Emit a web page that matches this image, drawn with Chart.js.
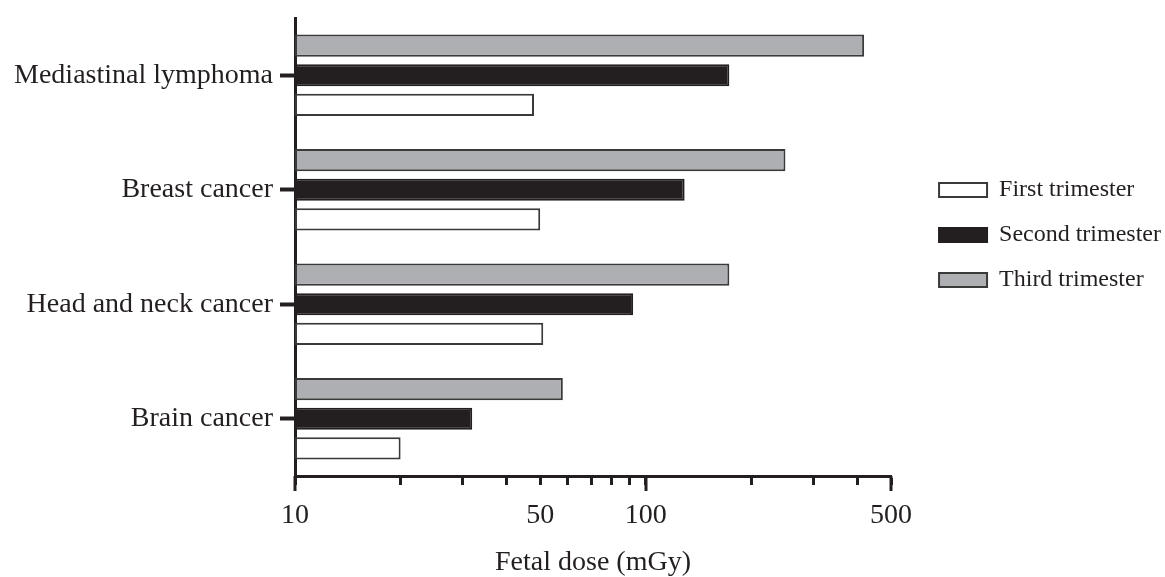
<!DOCTYPE html>
<html>
<head>
<meta charset="utf-8">
<script src="https://cdn.jsdelivr.net/npm/chart.js@4/dist/chart.umd.min.js"></script>
<style>
   html, body { margin: 0; padding: 0; background: #ffffff; }
   #wrap { width: 1165px; height: 577px; }
</style>
</head>
<body>
<div id="wrap"><canvas id="canvasDose"></canvas></div>
<script>

/* data (fetal dose, mGy) */
const categories = ["Mediastinal lymphoma", "Breast cancer", "Head and neck cancer", "Brain cancer"];
const firstTrimester = [48, 50, 51, 20];
const secondTrimester = [173, 129, 92, 32];
const thirdTrimester = [419, 250, 173, 58];

const xTickValues = [10, 20, 30, 40, 50, 60, 70, 80, 90, 100, 200, 300, 400, 500];
const xTickLabels = [10, 50, 100, 500];
const xMajorTicks = [10, 100, 500];

const INK = "#231f20";
const EDGE = "#3a3a3a";
const SERIF = "'Liberation Serif', 'Times New Roman', serif";

/* longer ticks at the decades, drawn through the x scale */
const majorTicks = {
   id: "majorTicks",
   afterDraw(chart) {
      let sx = chart.scales.x, ctx = chart.ctx, y0 = chart.chartArea.bottom;
      ctx.save();
      ctx.strokeStyle = INK;
      ctx.lineWidth = 3;
      for (let v of xMajorTicks) {
         let px = Math.round(sx.getPixelForValue(v));
         ctx.beginPath();
         ctx.moveTo(px, y0);
         ctx.lineTo(px, y0 + 15);
         ctx.stroke();
      }
      ctx.restore();
   }
};

let datasets = [
   {
      label: "Third trimester",
      data: thirdTrimester,
      backgroundColor: "#aeafb2",
      borderColor: EDGE,
      borderWidth: 2,
      borderSkipped: false
   },
   {
      label: "Second trimester",
      data: secondTrimester,
      backgroundColor: INK,
      borderColor: INK,
      borderWidth: 2,
      borderSkipped: false
   },
   {
      label: "First trimester",
      data: firstTrimester,
      backgroundColor: "#ffffff",
      borderColor: EDGE,
      borderWidth: 2,
      borderSkipped: false
   }
];

let conf = {
   type: "bar",
   data: {
      labels: categories,
      datasets: datasets
   },
   options: {
      indexAxis: "y",
      responsive: true,
      maintainAspectRatio: false,
      animation: false,
      categoryPercentage: 0.775,
      barPercentage: 0.75,
      layout: {
         padding: {top: 18, left: 0, right: -6, bottom: 0}
      },
      scales: {
         x: {
            type: "logarithmic",
            min: 10,
            max: 500,
            afterBuildTicks: (scale) => {
               scale.ticks = xTickValues.map(v => ({value: v}));
            },
            afterFit: (scale) => {
               scale.height = 101;
            },
            border: {display: true, color: INK, width: 3},
            grid: {
               display: true,
               drawOnChartArea: false,
               drawTicks: true,
               tickLength: 9,
               tickWidth: 3,
               tickColor: INK
            },
            ticks: {
               autoSkip: false,
               maxRotation: 0,
               color: INK,
               padding: 14,
               font: {family: SERIF, size: 28}
               , callback: (v) => xTickLabels.includes(v) ? String(v) : ""
            },
            title: {
               display: true,
               text: "Fetal dose (mGy)",
               color: INK,
               padding: {top: 0, bottom: -2},
               font: {family: SERIF, size: 28}
            }
         },
         y: {
            afterFit: (scale) => {
               scale.width = 295;
               scale.paddingTop = 0;
               scale.paddingBottom = 0;
            },
            border: {display: true, color: INK, width: 3},
            grid: {
               display: true,
               offset: false,
               drawOnChartArea: false,
               tickLength: 15,
               tickWidth: 4,
               tickColor: INK
            },
            ticks: {
               color: INK,
               padding: 7,
               font: {family: SERIF, size: 28}
            }
         },
         /* empty gap between the plot and the legend */
         gap: {
            type: "linear",
            position: "right",
            display: true,
            afterFit: (scale) => {
               scale.width = 27;
            },
            border: {display: false},
            grid: {display: false},
            ticks: {display: false}
         }
      },
      plugins: {
         tooltip: {enabled: false},
         legend: {
            display: true,
            position: "right",
            align: "start",
            fullSize: false,
            reverse: true,
            maxWidth: 320,
            title: {
               display: true,
               text: "",
               padding: {top: 127, bottom: 0},
               font: {size: 10}
            },
            labels: {
               color: INK,
               boxWidth: 48,
               boxHeight: 14,
               padding: 21,
               font: {family: SERIF, size: 24}
            }
         }
      }
   },
   plugins: [majorTicks]
};

new Chart(document.getElementById("canvasDose"), conf);

</script>
</body>
</html>
